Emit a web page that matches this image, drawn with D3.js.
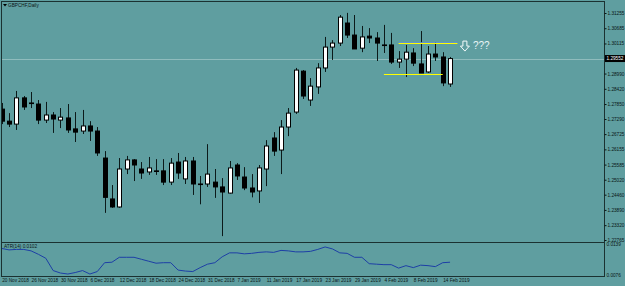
<!DOCTYPE html>
<html>
<head>
<meta charset="utf-8">
<script src="https://cdnjs.cloudflare.com/ajax/libs/d3/7.8.5/d3.min.js"></script>
<style>
  html, body { margin: 0; padding: 0; background: #5f9ea0; overflow: hidden; }
  svg { display: block; }
  text { font-family: "Liberation Sans", Arial, sans-serif; }
</style>
</head>
<body>
<div id="chart"></div>
<script>

// daily bars, GBPCHF
var dates = [
  '2018-11-20', '2018-11-21', '2018-11-22', '2018-11-23', '2018-11-26', '2018-11-27', '2018-11-28', '2018-11-29', '2018-11-30',
  '2018-12-03', '2018-12-04', '2018-12-05', '2018-12-06', '2018-12-07', '2018-12-10', '2018-12-11', '2018-12-12', '2018-12-13',
  '2018-12-14', '2018-12-17', '2018-12-18', '2018-12-19', '2018-12-20', '2018-12-21', '2018-12-24', '2018-12-26', '2018-12-27',
  '2018-12-28', '2018-12-31', '2019-01-02', '2019-01-03', '2019-01-04', '2019-01-07', '2019-01-08', '2019-01-09', '2019-01-10',
  '2019-01-11', '2019-01-14', '2019-01-15', '2019-01-16', '2019-01-17', '2019-01-18', '2019-01-21', '2019-01-22', '2019-01-23',
  '2019-01-24', '2019-01-25', '2019-01-28', '2019-01-29', '2019-01-30', '2019-01-31', '2019-02-01', '2019-02-04', '2019-02-05',
  '2019-02-06', '2019-02-07', '2019-02-08', '2019-02-11', '2019-02-12', '2019-02-13', '2019-02-14', '2019-02-15'
];

var opens = [
  1.2766, 1.2721, 1.2710, 1.2808, 1.2789, 1.2785, 1.2725, 1.2744, 1.2725, 1.2733,
  1.2692, 1.2684, 1.2703, 1.2684, 1.2583, 1.2430, 1.2400, 1.2542, 1.2576, 1.2542,
  1.2531, 1.2535, 1.2535, 1.2493, 1.2568, 1.2505, 1.2572, 1.2486, 1.2486, 1.2493,
  1.2475, 1.2452, 1.2557, 1.2512, 1.2471, 1.2460, 1.2542, 1.2658, 1.2613, 1.2699,
  1.2755, 1.2908, 1.2800, 1.2849, 1.2920, 1.2998, 1.3013, 1.3088, 1.3043, 1.2994,
  1.3039, 1.3032, 1.3006, 1.3006, 1.2942, 1.2953, 1.2976, 1.2935, 1.2905, 1.2972,
  1.2961, 1.2860
];

var highs = [
  1.2789, 1.2751, 1.2834, 1.2815, 1.2830, 1.2800, 1.2793, 1.2755, 1.2770, 1.2785,
  1.2755, 1.2763, 1.2721, 1.2699, 1.2609, 1.2482, 1.2583, 1.2591, 1.2579, 1.2568,
  1.2587, 1.2579, 1.2579, 1.2583, 1.2602, 1.2587, 1.2587, 1.2516, 1.2635, 1.2542,
  1.2508, 1.2572, 1.2564, 1.2549, 1.2523, 1.2557, 1.2650, 1.2680, 1.2725, 1.2770,
  1.2920, 1.2912, 1.2882, 1.2938, 1.3036, 1.3024, 1.3118, 1.3126, 1.3118, 1.3077,
  1.3069, 1.3054, 1.3081, 1.3051, 1.2983, 1.3006, 1.2994, 1.3058, 1.3002, 1.3017,
  1.2979, 1.2961
];

var lows = [
  1.2710, 1.2699, 1.2688, 1.2763, 1.2770, 1.2710, 1.2714, 1.2677, 1.2695, 1.2677,
  1.2643, 1.2673, 1.2647, 1.2591, 1.2378, 1.2397, 1.2397, 1.2523, 1.2497, 1.2505,
  1.2520, 1.2520, 1.2482, 1.2482, 1.2505, 1.2486, 1.2445, 1.2410, 1.2475, 1.2434,
  1.2291, 1.2450, 1.2501, 1.2463, 1.2436, 1.2415, 1.2478, 1.2591, 1.2523, 1.2665,
  1.2748, 1.2804, 1.2778, 1.2823, 1.2905, 1.2950, 1.3002, 1.3032, 1.2991, 1.2979,
  1.3013, 1.2946, 1.2976, 1.2935, 1.2920, 1.2886, 1.2927, 1.2901, 1.2901, 1.2946,
  1.2852, 1.2849
];

var closes = [
  1.2721, 1.2710, 1.2808, 1.2774, 1.2788, 1.2725, 1.2744, 1.2729, 1.2736, 1.2688,
  1.2680, 1.2703, 1.2684, 1.2602, 1.2436, 1.2400, 1.2542, 1.2576, 1.2557, 1.2527,
  1.2546, 1.2534, 1.2493, 1.2564, 1.2527, 1.2572, 1.2486, 1.2485, 1.2523, 1.2475,
  1.2456, 1.2546, 1.2516, 1.2471, 1.2456, 1.2546, 1.2628, 1.2609, 1.2699, 1.2751,
  1.2912, 1.2815, 1.2852, 1.2920, 1.2998, 1.3013, 1.3110, 1.3043, 1.2991, 1.3036,
  1.3032, 1.3013, 1.3005, 1.2942, 1.2953, 1.2979, 1.2938, 1.2901, 1.2972, 1.2961,
  1.2864, 1.2955
];

// indicator window values
var atrValues = [
  0.0130, 0.0127, 0.0128, 0.0128, 0.0125, 0.0118, 0.0110, 0.0085, 0.0080, 0.0078,
  0.0081, 0.0085, 0.0078, 0.0083, 0.0101, 0.0102, 0.0112, 0.0112, 0.0112, 0.0108,
  0.0104, 0.0100, 0.0101, 0.0101, 0.0086, 0.0084, 0.0083, 0.0091, 0.0098, 0.0101,
  0.0113, 0.0121, 0.0121, 0.0119, 0.0120, 0.0122, 0.0123, 0.0122, 0.0126, 0.0125,
  0.0123, 0.0123, 0.0124, 0.0128, 0.0133, 0.0129, 0.0121, 0.0120, 0.0112, 0.0112,
  0.0099, 0.0098, 0.0097, 0.0097, 0.0090, 0.0095, 0.0091, 0.0096, 0.0095, 0.0093,
  0.0101, 0.0102
];

// axis labels as printed by the terminal
var priceTickLabels = ['1.31255', '1.30685', '1.30115', '1.28990', '1.28420', '1.27850', '1.27290', '1.26725',
  '1.26155', '1.25585', '1.25020', '1.24460', '1.23890', '1.23320', '1.22765'];
var atrTickLabels = ['0.0139', '0.0076'];
var currentPrice = 1.29552;

// hand drawn levels: price, first bar, last bar
var levelPrices = [1.3013, 1.2897];
var levelBars = [[54, 62], [52, 60]];

var attrs = {
  width: 625,
  height: 286,
  left: 1.5,
  right: 604.5,
  top: 1.5,
  mainBottom: 242.5,
  subBottom: 276.5,
  fontSize: 4.7,
  background: '#5f9ea0',
  frame: '#1b3131'
};

var svg = d3.select('#chart').append('svg')
  .attr('width', attrs.width)
  .attr('height', attrs.height);

svg.append('rect').attr('width', attrs.width).attr('height', attrs.height).attr('fill', attrs.background);

// scales
var x = d3.scaleLinear().domain([0, dates.length - 1]).range([1.7, 1.7 + 7.35 * (dates.length - 1)]);
var y = d3.scaleLinear().domain([1.22765, 1.31255]).range([240, 13]);
var yAtr = d3.scaleLinear().domain([0.0076, 0.0139]).range([275, 244]);

var bars = dates.map(function (d, i) {
  return { date: d3.timeParse('%Y-%m-%d')(d), i: i, o: opens[i], h: highs[i], l: lows[i], c: closes[i], atr: atrValues[i] };
});

// clip paths for the two windows
var defs = svg.append('defs');
defs.append('clipPath').attr('id', 'clip-main').append('rect')
  .attr('x', attrs.left + 0.5).attr('y', attrs.top + 0.5)
  .attr('width', attrs.right - attrs.left - 1).attr('height', attrs.mainBottom - attrs.top - 1);
defs.append('clipPath').attr('id', 'clip-sub').append('rect')
  .attr('x', attrs.left + 0.5).attr('y', attrs.mainBottom + 0.5)
  .attr('width', attrs.right - attrs.left - 1).attr('height', attrs.subBottom - attrs.mainBottom - 1);

var main = svg.append('g').attr('clip-path', 'url(#clip-main)');
var sub = svg.append('g').attr('clip-path', 'url(#clip-sub)');

// current price line
main.append('line')
  .attr('x1', attrs.left).attr('x2', attrs.right)
  .attr('y1', Math.round(y(currentPrice)) + 0.5).attr('y2', Math.round(y(currentPrice)) + 0.5)
  .attr('stroke', '#8fbcbd').attr('stroke-width', 1);

// candles
var candle = main.selectAll('.candle').data(bars).enter().append('g').attr('class', 'candle');

candle.append('line')
  .attr('x1', function (d) { return Math.round(x(d.i)) + 0.5; })
  .attr('x2', function (d) { return Math.round(x(d.i)) + 0.5; })
  .attr('y1', function (d) { return y(d.h); })
  .attr('y2', function (d) { return y(d.l); })
  .attr('stroke', '#0c1a1a').attr('stroke-width', 1);

candle.append('rect')
  .attr('x', function (d) { return Math.round(x(d.i)) - 2 + 0.5; })
  .attr('width', 4)
  .attr('y', function (d) { return y(Math.max(d.o, d.c)); })
  .attr('height', function (d) { return Math.max(0.6, Math.abs(y(d.o) - y(d.c))); })
  .attr('fill', function (d) { return d.c > d.o ? '#ffffff' : '#000000'; })
  .attr('stroke', '#000000').attr('stroke-width', 1);

// drawn levels
var level = main.selectAll('.level').data(levelPrices).enter().append('g').attr('class', 'level');
level.append('line')
  .attr('x1', function (d, i) { return x(levelBars[i][0]); })
  .attr('x2', function (d, i) { return x(levelBars[i][1]); })
  .attr('y1', function (d) { return Math.round(y(d)) + 0.5; })
  .attr('y2', function (d) { return Math.round(y(d)) + 0.5; })
  .attr('stroke', '#ffff00').attr('stroke-width', 1.2);

// thin blue trendline sitting on top of the upper level
main.append('line')
  .attr('x1', x(levelBars[0][0])).attr('x2', x(levelBars[0][1]))
  .attr('y1', Math.round(y(levelPrices[0])) - 0.5).attr('y2', Math.round(y(levelPrices[0])) - 0.5)
  .attr('stroke', '#5f8fe0').attr('stroke-width', 0.8);

// arrow + question marks annotation
var ax = x(levelBars[0][1]) + 7.5;
var ay = y(levelPrices[0]) - 2;
main.append('path')
  .attr('d', 'M' + (ax - 2) + ',' + ay + 'h4v5h2.5l-4.5,5l-4.5,-5h2.5z')
  .attr('fill', 'none').attr('stroke', '#f4fbfb').attr('stroke-width', 1);
main.append('text')
  .attr('x', ax + 8).attr('y', ay + 7.5)
  .attr('font-size', 10).attr('fill', '#e8f4f6')
  .text('???');

// indicator line
sub.append('path')
  .datum(bars)
  .attr('fill', 'none')
  .attr('stroke', '#1d3fa6')
  .attr('stroke-width', 1)
  .attr('d', d3.line().x(function (d) { return x(d.i); }).y(function (d) { return yAtr(d.atr); }));

sub.append('text')
  .attr('x', 4).attr('y', 248)
  .attr('font-size', attrs.fontSize).attr('fill', '#0a1616')
  .text('ATR(14) ' + atrValues[atrValues.length - 1].toFixed(4));

// window frames
var frame = svg.append('g').attr('fill', 'none').attr('stroke', attrs.frame).attr('stroke-width', 1);
frame.append('rect').attr('x', attrs.left).attr('y', attrs.top)
  .attr('width', attrs.right - attrs.left).attr('height', attrs.mainBottom - attrs.top);
frame.append('rect').attr('x', attrs.left).attr('y', attrs.mainBottom)
  .attr('width', attrs.right - attrs.left).attr('height', attrs.subBottom - attrs.mainBottom);

// title
svg.append('path').attr('d', 'M3,4h4l-2,2.5z').attr('fill', '#000');
svg.append('text')
  .attr('x', 8).attr('y', 7)
  .attr('font-size', attrs.fontSize).attr('fill', '#0a1616')
  .text('GBPCHF,Daily');

// price axis
var priceAxis = d3.axisRight(y)
  .tickValues(priceTickLabels.map(Number))
  .tickFormat(function (d, i) { return priceTickLabels[i]; })
  .tickSize(2).tickPadding(1);

var gPrice = svg.append('g').attr('transform', 'translate(' + attrs.right + ',0)').call(priceAxis);
gPrice.select('.domain').remove();
gPrice.selectAll('line').attr('stroke', '#0a1616');
gPrice.selectAll('text').attr('font-size', attrs.fontSize).attr('fill', '#0a1616').attr('font-family', null);

// current price marker
var cp = svg.append('g').attr('transform', 'translate(' + attrs.right + ',' + y(currentPrice) + ')');
cp.append('rect').attr('x', 0.5).attr('y', -3.5).attr('width', 20).attr('height', 7).attr('fill', '#000');
cp.append('text').attr('x', 2).attr('y', 1.7).attr('font-size', attrs.fontSize).attr('fill', '#fff')
  .text(currentPrice.toFixed(5));

// indicator axis
var atrAxis = d3.axisRight(yAtr)
  .tickValues(atrTickLabels.map(Number))
  .tickFormat(function (d, i) { return atrTickLabels[i]; })
  .tickSize(0).tickPadding(2);
var gAtr = svg.append('g').attr('transform', 'translate(' + attrs.right + ',0)').call(atrAxis);
gAtr.select('.domain').remove();
gAtr.selectAll('text').attr('font-size', attrs.fontSize).attr('fill', '#0a1616').attr('font-family', null);

// time axis, every fourth bar
var fmt = d3.timeFormat('%-d %b %Y');
var timeAxis = d3.axisBottom(x)
  .tickValues(d3.range(0, dates.length, 4))
  .tickFormat(function (i) { return fmt(bars[i].date); })
  .tickSize(0).tickPadding(2);
var gTime = svg.append('g').attr('transform', 'translate(0,' + attrs.subBottom + ')').call(timeAxis);
gTime.select('.domain').remove();
gTime.selectAll('text')
  .attr('text-anchor', 'start')
  .attr('font-size', attrs.fontSize).attr('fill', '#0a1616').attr('font-family', null);

</script>
</body>
</html>
